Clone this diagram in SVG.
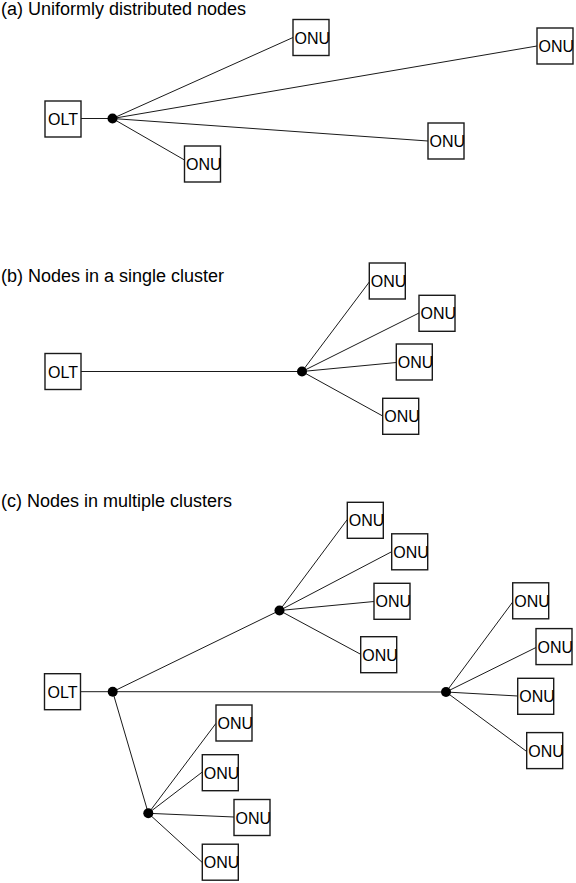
<svg xmlns="http://www.w3.org/2000/svg" width="576" height="883" viewBox="0 0 576 883">
<style>
.bg{fill:#fff}
.box{fill:#fff;stroke:#1a1a1a;stroke-width:1.4}
.lbl{font-family:"Liberation Sans",Arial,sans-serif;font-size:16px;fill:#000}
.title{font-family:"Liberation Sans",Arial,sans-serif;font-size:18px;fill:#000}
.ln{stroke:#1a1a1a;stroke-width:1;fill:none}
.dot{fill:#000}
</style>
<rect class="bg" x="0" y="0" width="576" height="883"/>
<text class="title" x="1" y="15">(a) Uniformly distributed nodes</text>
<text class="title" x="1" y="282">(b) Nodes in a single cluster</text>
<text class="title" x="1" y="507">(c) Nodes in multiple clusters</text>
<g id="connectors">
<line class="ln" x1="81" y1="118.5" x2="112.5" y2="118.5"/>
<line class="ln" x1="112.5" y1="118.5" x2="293" y2="37.5"/>
<line class="ln" x1="112.5" y1="118.5" x2="537" y2="46"/>
<line class="ln" x1="112.5" y1="118.5" x2="428" y2="141"/>
<line class="ln" x1="112.5" y1="118.5" x2="184.5" y2="160"/>
<line class="ln" x1="81" y1="371.5" x2="302" y2="371.5"/>
<line class="ln" x1="302" y1="371.5" x2="369.3" y2="282"/>
<line class="ln" x1="302" y1="371.5" x2="419" y2="313"/>
<line class="ln" x1="302" y1="371.5" x2="396.3" y2="362.5"/>
<line class="ln" x1="302" y1="371.5" x2="382.7" y2="416"/>
<line class="ln" x1="81" y1="691.7" x2="112.7" y2="691.7"/>
<line class="ln" x1="112.7" y1="691.7" x2="279.5" y2="610.5"/>
<line class="ln" x1="112.7" y1="691.7" x2="446" y2="692"/>
<line class="ln" x1="112.7" y1="691.7" x2="148.3" y2="813.3"/>
<line class="ln" x1="279.5" y1="610.5" x2="347.3" y2="519.5"/>
<line class="ln" x1="279.5" y1="610.5" x2="391.7" y2="551.7"/>
<line class="ln" x1="279.5" y1="610.5" x2="374" y2="601.5"/>
<line class="ln" x1="279.5" y1="610.5" x2="360.7" y2="654.3"/>
<line class="ln" x1="446" y1="692" x2="512.7" y2="602"/>
<line class="ln" x1="446" y1="692" x2="536" y2="647.5"/>
<line class="ln" x1="446" y1="692" x2="517.7" y2="696"/>
<line class="ln" x1="446" y1="692" x2="526.7" y2="751.5"/>
<line class="ln" x1="148.3" y1="813.3" x2="216" y2="723.3"/>
<line class="ln" x1="148.3" y1="813.3" x2="202.3" y2="772"/>
<line class="ln" x1="148.3" y1="813.3" x2="234" y2="817"/>
<line class="ln" x1="148.3" y1="813.3" x2="202.3" y2="862.5"/>
</g>
<g id="splitters">
<circle id="split-a" class="dot" cx="112.5" cy="118.5" r="5"/>
<circle id="split-b" class="dot" cx="302" cy="371.5" r="5"/>
<circle id="split-c0" class="dot" cx="112.7" cy="691.7" r="5"/>
<circle id="split-c1" class="dot" cx="279.5" cy="610.5" r="5"/>
<circle id="split-c2" class="dot" cx="446" cy="692" r="5"/>
<circle id="split-c3" class="dot" cx="148.3" cy="813.3" r="5"/>
</g>
<g id="olt-a"><rect class="box" x="45" y="101" width="36" height="36"/><text class="lbl" x="48" y="125">OLT</text></g>
<g id="onu-a1"><rect class="box" x="293" y="19.5" width="36" height="36"/><text class="lbl" x="294.5" y="43.5">ONU</text></g>
<g id="onu-a2"><rect class="box" x="537" y="28" width="36" height="36"/><text class="lbl" x="538.5" y="52">ONU</text></g>
<g id="onu-a3"><rect class="box" x="428" y="123" width="36" height="36"/><text class="lbl" x="429.5" y="147">ONU</text></g>
<g id="onu-a4"><rect class="box" x="184.5" y="146" width="36" height="36"/><text class="lbl" x="186" y="170">ONU</text></g>
<g id="olt-b"><rect class="box" x="45" y="353.5" width="36" height="36"/><text class="lbl" x="48" y="377.5">OLT</text></g>
<g id="onu-b1"><rect class="box" x="369.3" y="263" width="36" height="36"/><text class="lbl" x="370.8" y="287">ONU</text></g>
<g id="onu-b2"><rect class="box" x="419" y="295.3" width="36" height="36"/><text class="lbl" x="420.5" y="319.3">ONU</text></g>
<g id="onu-b3"><rect class="box" x="396.3" y="344" width="36" height="36"/><text class="lbl" x="397.8" y="368">ONU</text></g>
<g id="onu-b4"><rect class="box" x="382.7" y="398.3" width="36" height="36"/><text class="lbl" x="384.2" y="422.3">ONU</text></g>
<g id="olt-c"><rect class="box" x="44.5" y="673.7" width="36" height="36"/><text class="lbl" x="47.5" y="697.7">OLT</text></g>
<g id="onu-c1"><rect class="box" x="347.3" y="502.3" width="36" height="36"/><text class="lbl" x="348.8" y="526.3">ONU</text></g>
<g id="onu-c2"><rect class="box" x="391.7" y="533.8" width="36" height="36"/><text class="lbl" x="393.2" y="557.8">ONU</text></g>
<g id="onu-c3"><rect class="box" x="374" y="583.3" width="36" height="36"/><text class="lbl" x="375.5" y="607.3">ONU</text></g>
<g id="onu-c4"><rect class="box" x="360.7" y="636.7" width="36" height="36"/><text class="lbl" x="362.2" y="660.7">ONU</text></g>
<g id="onu-c5"><rect class="box" x="512.7" y="582.8" width="36" height="36"/><text class="lbl" x="514.2" y="606.8">ONU</text></g>
<g id="onu-c6"><rect class="box" x="536" y="628.6" width="36" height="36"/><text class="lbl" x="537.5" y="652.6">ONU</text></g>
<g id="onu-c7"><rect class="box" x="517.7" y="678.3" width="36" height="36"/><text class="lbl" x="519.2" y="702.3">ONU</text></g>
<g id="onu-c8"><rect class="box" x="526.7" y="732.6" width="36" height="36"/><text class="lbl" x="528.2" y="756.6">ONU</text></g>
<g id="onu-c9"><rect class="box" x="216" y="705" width="36" height="36"/><text class="lbl" x="217.5" y="729">ONU</text></g>
<g id="onu-c10"><rect class="box" x="202.3" y="754.7" width="36" height="36"/><text class="lbl" x="203.8" y="778.7">ONU</text></g>
<g id="onu-c11"><rect class="box" x="234" y="799.5" width="36" height="36"/><text class="lbl" x="235.5" y="823.5">ONU</text></g>
<g id="onu-c12"><rect class="box" x="202.3" y="844.2" width="36" height="36"/><text class="lbl" x="203.8" y="868.2">ONU</text></g>
</svg>
